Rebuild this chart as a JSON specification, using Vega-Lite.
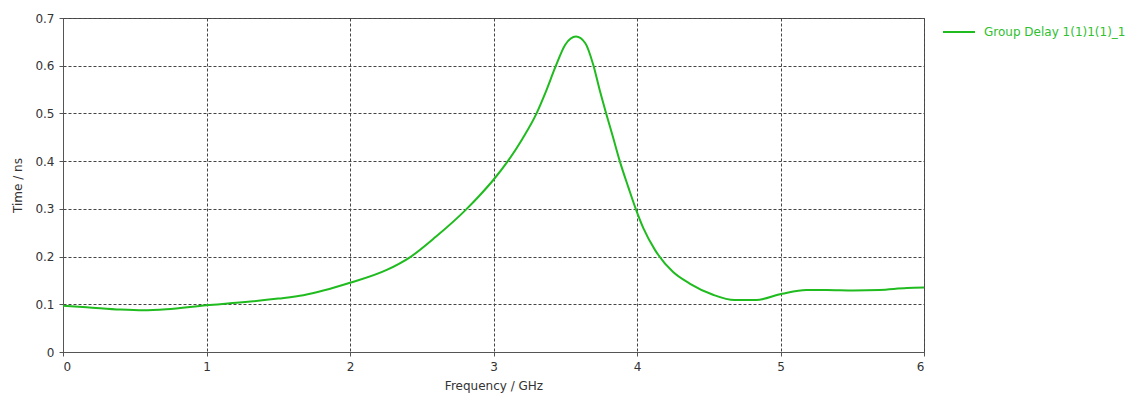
{
  "$schema": "https://vega.github.io/schema/vega-lite/v6.json",
  "width": 861,
  "height": 334,
  "autosize": {"type": "none"},
  "padding": {"left": 63, "top": 18, "right": 215, "bottom": 51},
  "background": "white",
  "config": {
    "font": "DejaVu Sans",
    "view": {"stroke": "#555555", "strokeWidth": 1},
    "axis": {
      "labelFont": "DejaVu Sans",
      "titleFont": "DejaVu Sans",
      "labelFontSize": 12,
      "titleFontSize": 12,
      "titleFontWeight": "normal",
      "labelColor": "#333333",
      "titleColor": "#333333",
      "domainColor": "#555555",
      "tickColor": "#555555",
      "tickSize": 4,
      "gridColor": "#444444",
      "gridDash": [3, 2],
      "gridWidth": 1,
      "gridOpacity": 1
    },
    "legend": {
      "labelFont": "DejaVu Sans",
      "labelFontSize": 12,
      "padding": 0
    }
  },
  "data": {
    "values": [
      {"f": 0, "t": 0.097, "s": "Group Delay 1(1)1(1)_1"},
      {"f": 0.165, "t": 0.094, "s": "Group Delay 1(1)1(1)_1"},
      {"f": 0.4, "t": 0.089, "s": "Group Delay 1(1)1(1)_1"},
      {"f": 0.56, "t": 0.0875, "s": "Group Delay 1(1)1(1)_1"},
      {"f": 0.72, "t": 0.0895, "s": "Group Delay 1(1)1(1)_1"},
      {"f": 1.0, "t": 0.098, "s": "Group Delay 1(1)1(1)_1"},
      {"f": 1.23, "t": 0.1035, "s": "Group Delay 1(1)1(1)_1"},
      {"f": 1.5, "t": 0.112, "s": "Group Delay 1(1)1(1)_1"},
      {"f": 1.675, "t": 0.119, "s": "Group Delay 1(1)1(1)_1"},
      {"f": 2.0, "t": 0.145, "s": "Group Delay 1(1)1(1)_1"},
      {"f": 2.256, "t": 0.172, "s": "Group Delay 1(1)1(1)_1"},
      {"f": 2.42, "t": 0.199, "s": "Group Delay 1(1)1(1)_1"},
      {"f": 2.6, "t": 0.242, "s": "Group Delay 1(1)1(1)_1"},
      {"f": 2.81, "t": 0.299, "s": "Group Delay 1(1)1(1)_1"},
      {"f": 2.9, "t": 0.327, "s": "Group Delay 1(1)1(1)_1"},
      {"f": 3.0, "t": 0.361, "s": "Group Delay 1(1)1(1)_1"},
      {"f": 3.1, "t": 0.4, "s": "Group Delay 1(1)1(1)_1"},
      {"f": 3.2, "t": 0.446, "s": "Group Delay 1(1)1(1)_1"},
      {"f": 3.3, "t": 0.5, "s": "Group Delay 1(1)1(1)_1"},
      {"f": 3.36, "t": 0.542, "s": "Group Delay 1(1)1(1)_1"},
      {"f": 3.435, "t": 0.6, "s": "Group Delay 1(1)1(1)_1"},
      {"f": 3.5, "t": 0.644, "s": "Group Delay 1(1)1(1)_1"},
      {"f": 3.575, "t": 0.661, "s": "Group Delay 1(1)1(1)_1"},
      {"f": 3.64, "t": 0.647, "s": "Group Delay 1(1)1(1)_1"},
      {"f": 3.695, "t": 0.602, "s": "Group Delay 1(1)1(1)_1"},
      {"f": 3.74, "t": 0.549, "s": "Group Delay 1(1)1(1)_1"},
      {"f": 3.785, "t": 0.5, "s": "Group Delay 1(1)1(1)_1"},
      {"f": 3.835, "t": 0.448, "s": "Group Delay 1(1)1(1)_1"},
      {"f": 3.88, "t": 0.4, "s": "Group Delay 1(1)1(1)_1"},
      {"f": 3.94, "t": 0.345, "s": "Group Delay 1(1)1(1)_1"},
      {"f": 3.99, "t": 0.301, "s": "Group Delay 1(1)1(1)_1"},
      {"f": 4.045, "t": 0.259, "s": "Group Delay 1(1)1(1)_1"},
      {"f": 4.125, "t": 0.214, "s": "Group Delay 1(1)1(1)_1"},
      {"f": 4.25, "t": 0.168, "s": "Group Delay 1(1)1(1)_1"},
      {"f": 4.37, "t": 0.143, "s": "Group Delay 1(1)1(1)_1"},
      {"f": 4.53, "t": 0.12, "s": "Group Delay 1(1)1(1)_1"},
      {"f": 4.68, "t": 0.109, "s": "Group Delay 1(1)1(1)_1"},
      {"f": 4.83, "t": 0.109, "s": "Group Delay 1(1)1(1)_1"},
      {"f": 5.01, "t": 0.122, "s": "Group Delay 1(1)1(1)_1"},
      {"f": 5.18, "t": 0.13, "s": "Group Delay 1(1)1(1)_1"},
      {"f": 5.32, "t": 0.13, "s": "Group Delay 1(1)1(1)_1"},
      {"f": 5.51, "t": 0.129, "s": "Group Delay 1(1)1(1)_1"},
      {"f": 5.69, "t": 0.13, "s": "Group Delay 1(1)1(1)_1"},
      {"f": 5.88, "t": 0.134, "s": "Group Delay 1(1)1(1)_1"},
      {"f": 6.0, "t": 0.135, "s": "Group Delay 1(1)1(1)_1"}
    ]
  },
  "mark": {"type": "line", "interpolate": "monotone", "strokeWidth": 2},
  "encoding": {
    "x": {
      "field": "f",
      "type": "quantitative",
      "scale": {"domain": [0, 6], "nice": false},
      "axis": {"title": "Frequency / GHz", "values": [0, 1, 2, 3, 4, 5, 6], "labelPadding": 5, "titlePadding": 8}
    },
    "y": {
      "field": "t",
      "type": "quantitative",
      "scale": {"domain": [0, 0.7], "nice": false},
      "axis": {"title": "Time / ns", "values": [0, 0.1, 0.2, 0.3, 0.4, 0.5, 0.6, 0.7], "format": "~g", "labelPadding": 5, "titlePadding": 10}
    },
    "color": {
      "field": "s",
      "type": "nominal",
      "scale": {"range": ["#1fbb1f"]},
      "legend": {
        "title": null,
        "orient": "none",
        "legendX": 879,
        "legendY": -3,
        "symbolType": "stroke",
        "symbolSize": 1024,
        "symbolStrokeWidth": 2,
        "labelColor": "#2fbf2f",
        "labelOffset": 8,
        "labelLimit": 300
      }
    }
  }
}
